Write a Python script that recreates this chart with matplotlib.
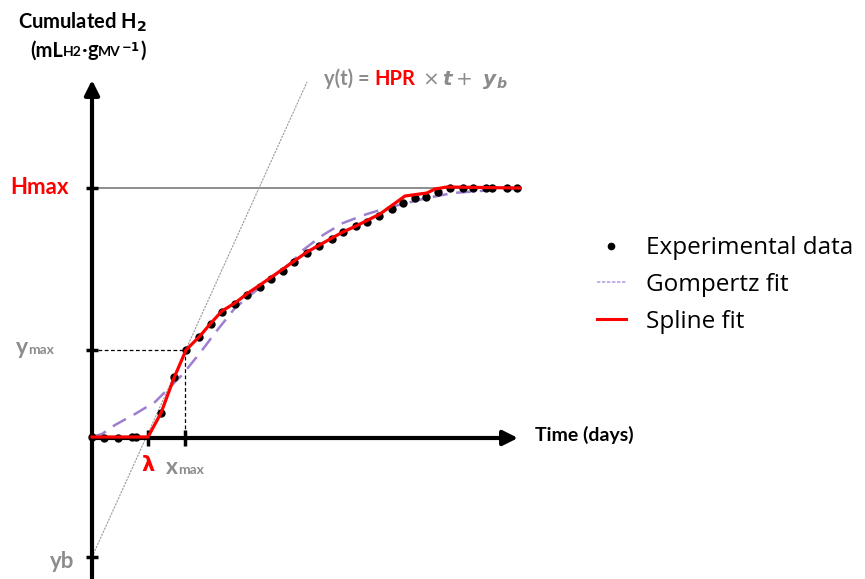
import matplotlib.pyplot as plt
from matplotlib.lines import Line2D
from matplotlib.offsetbox import TextArea, HPacker, AnnotationBbox

# schematic units: origin at the axes crossing, x to the right, y upwards
exp_x = [0, 12, 26, 40, 44, 69, 82, 94, 107, 119, 130, 143, 155, 168, 179, 191, 202, 215,
         227, 240, 251, 264, 275, 287, 300, 311, 323, 334, 346, 358, 371, 381, 394, 400, 415, 425]
exp_y = [1, 0, 0, 1, 1, 25, 61, 88, 101, 114, 126, 134, 143, 151, 159, 167, 176, 185,
         192, 199, 206, 212, 216, 222, 229, 235, 240, 241, 246, 250, 250, 250, 250, 250, 250, 250]

spline_x = [0, 56, 69, 82, 94, 108, 119, 130, 143, 156, 168, 191, 215, 240, 251, 264, 288,
            313, 335, 343, 355, 428]
spline_y = [1, 1, 25, 60, 88, 102, 115, 127, 135, 145, 153, 169, 186, 200, 206, 212, 224,
            242, 245, 249, 251, 250]

gomp_x = [0, 10, 23, 43, 63, 81, 90, 108, 123, 143, 161, 181, 201, 211, 231, 251, 275, 295,
          315, 335, 361, 388, 421, 428]
gomp_y = [1, 4, 13, 24, 36, 54, 63, 85, 105, 130, 145, 161, 177, 188, 203, 215, 224, 230,
          235, 240, 245, 247, 249, 249]

h_max = 250
y_max = 88
x_max = 93
lam = 56
y_b = -119
tangent_x = [0, 215]
tangent_y = [y_b, 356]

GRAY = '#8c8c8c'
RED = '#ff0000'
PURPLE = '#9d7fcf'
BOLD = 'Lato'

fig = plt.figure(figsize=(8.65, 5.79), dpi=100)
ax = fig.add_axes([0, 0, 1, 1])
ax.set_xlim(-92, 773)
ax.set_ylim(-141, 438)
ax.axis('off')

# axes with arrows
ax.annotate('', xy=(0, 358), xytext=(0, -145),
            arrowprops=dict(arrowstyle='-|>', lw=3, color='black', mutation_scale=22,
                            shrinkA=0, shrinkB=0))
ax.annotate('', xy=(426, 0), xytext=(0, 0),
            arrowprops=dict(arrowstyle='-|>', lw=3, color='black', mutation_scale=22,
                            shrinkA=0, shrinkB=0))

# guide lines
ax.plot([6, 428], [h_max, h_max], color='#6f6f6f', lw=1.1, zorder=1)
ax.plot([6, x_max], [y_max, y_max], color='black', lw=0.9, ls=(0, (3, 2)), zorder=1)
ax.plot([x_max, x_max], [y_max, 0], color='black', lw=0.9, ls=(0, (3, 2)), zorder=1)
ax.plot(tangent_x, tangent_y, color='#9a9a9a', lw=0.8, ls=(0, (2, 1)), zorder=1)

# tick marks
for yv in [h_max, y_max, y_b]:
    ax.plot([-6, 6], [yv, yv], color='black', lw=2.5, solid_capstyle='butt')
for xv in [lam, x_max]:
    ax.plot([xv, xv], [-8, 8], color='black', lw=2.5, solid_capstyle='butt')

# curves
ax.plot(gomp_x, gomp_y, color=PURPLE, lw=1.8, ls=(0, (6, 3.5)), zorder=3)
ax.plot(exp_x, exp_y, 'o', color='black', ms=5, zorder=4)
ax.plot(spline_x, spline_y, color=RED, lw=2.3, zorder=5)


def rich_text(parts, xy, align=(0, 0.5)):
    boxes = [TextArea(s, textprops=p) for s, p in parts]
    pack = HPacker(children=boxes, align='baseline', pad=0, sep=0)
    ab = AnnotationBbox(pack, xy, xycoords='data', frameon=False, box_alignment=align, pad=0)
    ax.add_artist(ab)


# labels
ax.text(-53, h_max, 'Hmax', color=RED, fontsize=16, fontweight='bold', family=BOLD,
        ha='center', va='center')
lab = dict(fontsize=16.5, fontweight='bold', family=BOLD, color=GRAY)
lab_s = dict(lab, fontsize=10)
rich_text([('y', lab), ('max', lab_s)], (-57, y_max + 2), (0.5, 0.5))
rich_text([('x', lab), ('max', lab_s)], (93, -29), (0.5, 0.5))
ax.text(-30, y_b - 4, 'yb', color=GRAY, fontsize=16, fontweight='bold', family=BOLD,
        ha='center', va='center')
ax.text(lam, -27, 'λ', color=RED, fontsize=15, fontweight='bold', family='DejaVu Sans',
        ha='center', va='center')
ax.text(443, 3, 'Time (days)', color='black', fontsize=14, fontweight='bold', family=BOLD,
        ha='left', va='center')

big = dict(fontsize=14.5, fontweight='bold', family=BOLD, color='black')
small = dict(fontsize=10, fontweight='bold', family=BOLD, color='black')
ax.text(-10, 416, r'Cumulated H$_\mathbf{2}$', ha='center', va='center', **big)
rich_text([('(mL', big), ('H2', small), ('·', dict(big, family='Open Sans')), ('g', big),
           ('MV', small), (r'$^{\mathbf{-1}}$', dict(small, fontsize=12)), (')', big)],
          (-4, 387), (0.5, 0.5))

eq_g = dict(fontsize=14.5, fontweight='bold', family=BOLD, color=GRAY)
eq_r = dict(eq_g, color=RED)
rich_text([('y(t) = ', eq_g), ('HPR', eq_r),
           (r' $\times\,\mathbfit{t}+\ \mathbfit{y}_{\mathbfit{b}}$', dict(eq_g, family='DejaVu Serif'))],
          (232, 358), (0, 0.5))

# legend
handles = [Line2D([], [], ls='none', marker='o', color='black', ms=4.5),
           Line2D([], [], color='#b7a1e0', lw=1.2, ls=(0, (2, 1))),
           Line2D([], [], color=RED, lw=2.2)]
labels = ['Experimental data', 'Gompertz fit', 'Spline fit']
fig.legend(handles, labels, loc='upper left', bbox_to_anchor=(0.676, 0.613), frameon=False,
           prop=dict(family='Open Sans', size=17.5), handlelength=1.2, handletextpad=0.8,
           labelspacing=0.52, borderpad=0)

fig.savefig('out.png', dpi=100)
